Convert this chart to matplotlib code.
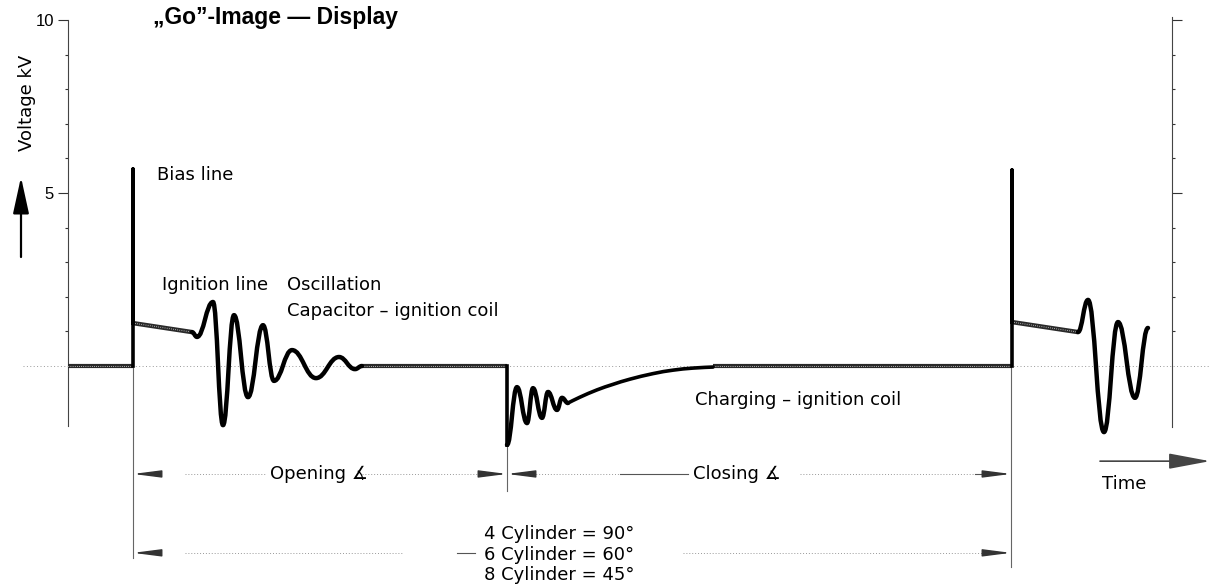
import numpy as np
import matplotlib.pyplot as plt
from matplotlib.path import Path
from matplotlib.patches import PathPatch

plt.rcParams['font.family'] = ['Liberation Sans', 'DejaVu Sans']

# time in arbitrary units (about one unit per pixel of the scan), voltage in kV
t_bias = 133
t_open = 507
t_next = 1011

# first firing: bias line spike, ignition line, capacitor/coil oscillation
spike1_t = [133, 133, 133]
spike1_v = [0.0, 5.7, 1.24]
ripple1_t = [133, 192]
ripple1_v = [1.24, 0.98]
osc1_t = [192, 197, 213, 223, 234, 248, 263, 274, 292, 316, 339, 355, 362]
osc1_v = [0.98, 0.84, 1.85, -1.71, 1.47, -0.90, 1.18, -0.43, 0.46, -0.35, 0.26, -0.09, 0.0]

# contact closing: drop, small oscillation, charging of the coil
drop_t = [507, 507]
drop_v = [0.0, -2.28]
osc2_t = [507, 517, 527, 533, 542, 548, 557, 562, 568]
osc2_v = [-2.28, -0.61, -1.65, -0.64, -1.50, -0.75, -1.27, -0.92, -1.07]
recov_t = [568, 580, 597, 613, 630, 653, 673, 693, 713]
recov_v = [-1.07, -0.90, -0.69, -0.53, -0.38, -0.22, -0.12, -0.06, -0.03]

# next firing
spike2_t = [1012, 1012, 1012]
spike2_v = [0.0, 5.66, 1.27]
ripple2_t = [1012, 1078]
ripple2_v = [1.27, 0.98]
osc3_t = [1078, 1088, 1104, 1118, 1135, 1148]
osc3_v = [0.98, 1.91, -1.91, 1.27, -0.92, 1.10]

# flat (zero) parts of the trace
flat_t = [(68, 133), (362, 507), (713, 1012)]

cylinder_text = ["4 Cylinder = 90°", "6 Cylinder = 60°", "8 Cylinder = 45°"]

lbl = dict(fontsize=13, family=['DejaVu Sans'])


def smooth_path(ts, vs, k=0.42):
    # bezier through the extrema, flat tangent at each one
    verts = [(ts[0], vs[0])]
    codes = [Path.MOVETO]
    for i in range(1, len(ts)):
        dx = ts[i] - ts[i - 1]
        verts += [(ts[i - 1] + k * dx, vs[i - 1]), (ts[i] - k * dx, vs[i]), (ts[i], vs[i])]
        codes += [Path.CURVE4] * 3
    return Path(verts, codes)


def curve_path(ts, vs):
    # catmull-rom style bezier through the read points
    p = np.column_stack([ts, vs]).astype(float)
    verts = [tuple(p[0])]
    codes = [Path.MOVETO]
    for i in range(len(p) - 1):
        p0 = p[max(i - 1, 0)]
        p3 = p[min(i + 2, len(p) - 1)]
        c1 = p[i] + (p[i + 1] - p0) / 6
        c2 = p[i + 1] - (p3 - p[i]) / 6
        verts += [tuple(c1), tuple(c2), tuple(p[i + 1])]
        codes += [Path.CURVE4] * 3
    return Path(verts, codes)


def stipple(ax, t, v, lw=3.0):
    ax.plot(t, v, color='#2a2a2a', lw=lw, solid_capstyle='butt', zorder=3)
    ax.plot(t, v, color='white', lw=0.7, ls=(0, (0.6, 1.6)), zorder=4)


fig = plt.figure(figsize=(12.1, 5.87), dpi=100)
ax = fig.add_axes([0, 0, 1, 1])
ax.set_xlim(0, 1210)
ax.set_ylim(-6.387, 10.578)

# axes: left and right voltage scales
for side in ['top', 'bottom']:
    ax.spines[side].set_visible(False)
ax.spines['left'].set_position(('data', 68))
ax.spines['left'].set_bounds(-1.74, 10)
ax.spines['right'].set_position(('data', 1172))
ax.spines['right'].set_bounds(-1.77, 10.09)
for side in ['left', 'right']:
    ax.spines[side].set_linewidth(0.8)
    ax.spines[side].set_color('#444444')
ax.set_xticks([])
ax.set_yticks([5, 10])
ax.set_yticklabels(['5', '10'])
ax.set_yticks([1, 2, 3, 4, 6, 7, 8, 9], minor=True)
ax.tick_params(axis='y', which='both', left=True, right=True, labelleft=True,
               labelright=False, direction='out', colors='#333333', labelcolor='black',
               labelsize=12)
ax.tick_params(axis='y', which='major', length=7, width=0.8, pad=3)
ax.tick_params(axis='y', which='minor', length=2.5, width=0.8)

# zero line, faint dots
ax.plot([23, 1210], [0, 0], color='#999999', lw=0.7, ls=(0, (1, 2.5)), zorder=1)

# thin vertical reference lines
ax.plot([t_bias, t_bias], [0, -5.55], color='#666666', lw=0.8, zorder=1)
ax.plot([t_open, t_open], [-2.28, -3.6], color='#666666', lw=0.8, zorder=1)
ax.plot([t_next, t_next], [0, -5.81], color='#666666', lw=0.8, zorder=1)

# trace
for a, b in flat_t:
    stipple(ax, [a, b], [0, 0])
stipple(ax, ripple1_t, ripple1_v, lw=3.2)
stipple(ax, ripple2_t, ripple2_v, lw=3.2)
ax.plot(spike1_t, spike1_v, color='black', lw=2.6, zorder=5)
ax.plot(spike2_t, spike2_v, color='black', lw=2.6, zorder=5)
ax.plot(drop_t, drop_v, color='black', lw=2.6, zorder=5)
for ts, vs in [(osc1_t, osc1_v), (osc2_t, osc2_v), (osc3_t, osc3_v)]:
    ax.add_patch(PathPatch(smooth_path(ts, vs), fill=False, lw=3.2, ec='black',
                           capstyle='round', joinstyle='round', zorder=5))
ax.add_patch(PathPatch(curve_path(recov_t, recov_v), fill=False, lw=2.6, ec='black',
                       capstyle='round', zorder=5))

# labels on the trace
ax.text(157, 5.52, 'Bias line', va='center', **lbl)
ax.text(162, 2.34, 'Ignition line', va='center', **lbl)
ax.text(287, 2.34, 'Oscillation', va='center', **lbl)
ax.text(287, 1.59, 'Capacitor \u2013 ignition coil', va='center', **lbl)
ax.text(695, -0.98, 'Charging \u2013 ignition coil', va='center', **lbl)
ax.text(153, 10.06, '\u201eGo\u201d-Image \u2014 Display', fontsize=16.5, fontweight='bold',
        va='center')

# voltage label and arrow
ax.text(27, 7.6, 'Voltage kV', rotation=90, ha='center', va='center', **lbl)
ax.annotate('', xy=(21, 5.46), xytext=(21, 3.15),
            arrowprops=dict(arrowstyle='-|>,head_length=1.6,head_width=0.35', color='black',
                            lw=1.6, mutation_scale=14, shrinkA=0, shrinkB=0))

# dimension lines
row1 = -3.12
row2 = -5.40
dim = dict(color='#999999', lw=0.7, ls=(0, (1, 2)), zorder=1)
head = dict(arrowstyle='-|>,head_length=1.4,head_width=0.18', color='#333333',
            lw=1.0, mutation_scale=12, shrinkA=0, shrinkB=0)


def dim_arrow(tip, tail, v):
    ax.annotate('', xy=(tip, v), xytext=(tail, v), arrowprops=head)


dim_arrow(t_bias, t_bias + 20, row1)
ax.plot([185, 265], [row1, row1], **dim)
ax.text(270, row1, 'Opening \u2221', va='center', **lbl)
ax.plot([362, 488], [row1, row1], **dim)
dim_arrow(t_open, t_open - 20, row1)
dim_arrow(t_open, t_open + 20, row1)
ax.plot([527, 620], [row1, row1], **dim)
ax.plot([620, 688], [row1, row1], color='#555555', lw=0.8)
ax.text(693, row1, 'Closing \u2221', va='center', **lbl)
ax.plot([800, 975], [row1, row1], **dim)
ax.plot([975, 992], [row1, row1], color='#555555', lw=0.8)
dim_arrow(t_next, t_next - 19, row1)

dim_arrow(t_bias, t_bias + 20, row2)
ax.plot([185, 403], [row2, row2], **dim)
ax.plot([457, 475], [row2, row2], color='#555555', lw=0.8)
for i, s in enumerate(cylinder_text):
    ax.text(484, -4.86 - 0.59 * i, s, va='center', **lbl)
ax.plot([683, 985], [row2, row2], **dim)
dim_arrow(t_next, t_next - 19, row2)

# time arrow
ax.annotate('', xy=(1210, -2.75), xytext=(1100, -2.75),
            arrowprops=dict(arrowstyle='-|>,head_length=1.6,head_width=0.3', color='#444444',
                            lw=1.2, mutation_scale=16, shrinkA=0, shrinkB=0))
ax.text(1102, -3.41, 'Time', va='center', **lbl)

fig.savefig('out.png', dpi=100)
